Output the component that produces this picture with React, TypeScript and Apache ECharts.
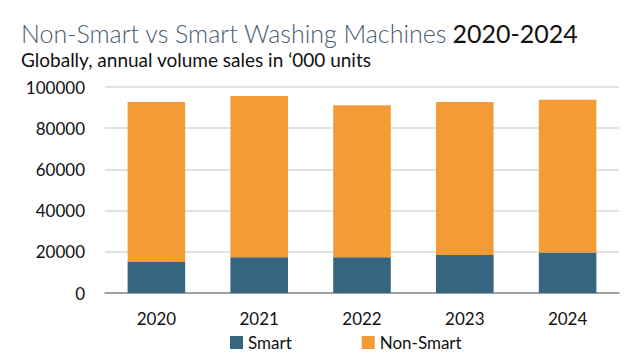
import React, { useEffect, useRef } from "react";
import * as echarts from "echarts";

const categories = ["2020", "2021", "2022", "2023", "2024"];
const smart = [15000, 17300, 17300, 18400, 19600];
const nonSmart = [77700, 78300, 73800, 74300, 74200];
const yTicks = { min: 0, max: 100000, interval: 20000 };

export default function App() {
  const ref = useRef<HTMLDivElement>(null);
  useEffect(() => {
    if (!ref.current) return;
    const chart = echarts.init(ref.current, undefined, { renderer: "svg" });
    const font = "Lato, 'Open Sans', sans-serif";
    chart.setOption({
      animation: false,
      backgroundColor: "#ffffff",
      title: [
        {
          left: 16,
          top: 15,
          padding: 5,
          text: "{a|Non-Smart vs Smart Washing Machines} {b|2020-2024}",
          textStyle: {
            rich: {
              a: { fontFamily: font, fontSize: 25, fontWeight: 300, color: "#4a5b70" },
              b: { fontFamily: font, fontSize: 25, fontWeight: 400, color: "#111111" },
            },
          },
        },
        {
          left: 16,
          top: 45,
          padding: 5,
          text: "Globally, annual volume sales in \u2018000 units",
          textStyle: { fontFamily: font, fontSize: 19, fontWeight: 400, color: "#111111" },
        },
      ],
      legend: {
        left: 230,
        top: 334,
        padding: 0,
        itemWidth: 13,
        itemHeight: 13,
        itemGap: 70,
        icon: "rect",
        textStyle: { fontFamily: font, fontSize: 17, color: "#111111" },
        data: ["Smart", "Non-Smart"],
      },
      grid: { left: 105, right: 21, top: 87, bottom: 65, containLabel: false },
      xAxis: {
        type: "category",
        data: categories,
        axisLine: { show: true, lineStyle: { color: "#8a8a8a", width: 1.5 } },
        axisTick: { show: false },
        axisLabel: { fontFamily: font, fontSize: 17, color: "#111111", margin: 17 },
      },
      yAxis: {
        type: "value",
        min: yTicks.min,
        max: yTicks.max,
        interval: yTicks.interval,
        axisLine: { show: false },
        axisTick: { show: false },
        axisLabel: {
          fontFamily: font,
          fontSize: 17,
          color: "#111111",
          margin: 20,
          formatter: (v: number) => String(v),
        },
        splitLine: { lineStyle: { color: "#d9d9d9", width: 1.5 } },
      },
      series: [
        {
          name: "Smart",
          type: "bar",
          stack: "total",
          data: smart,
          barWidth: "56%",
          itemStyle: { color: "#35657f" },
        },
        {
          name: "Non-Smart",
          type: "bar",
          stack: "total",
          data: nonSmart,
          barWidth: "56%",
          itemStyle: { color: "#f39c36" },
        },
      ],
    });
    return () => chart.dispose();
  }, []);
  return (
    <div
      ref={ref}
      style={{ position: "fixed", left: 0, top: 0, width: 640, height: 358 }}
    />
  );
}
